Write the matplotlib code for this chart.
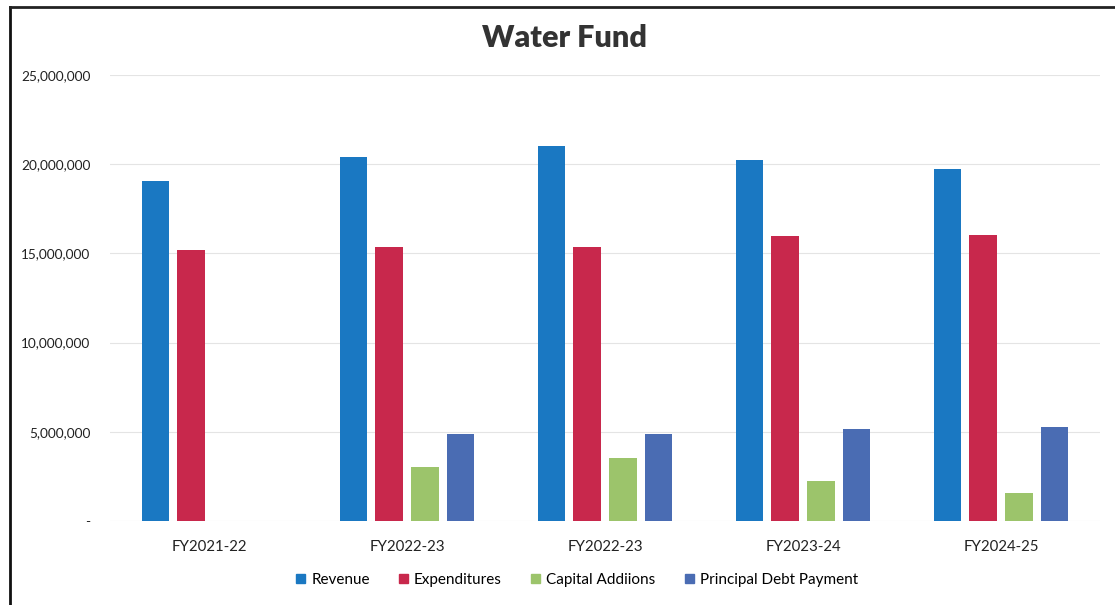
import matplotlib
matplotlib.use("Agg")
import matplotlib.pyplot as plt
from matplotlib.lines import Line2D
from matplotlib.ticker import FuncFormatter
import numpy as np

categories = ["FY2021-22", "FY2022-23", "FY2022-23", "FY2023-24", "FY2024-25"]
series_names = ["Revenue", "Expenditures", "Capital Addiions", "Principal Debt Payment"]
revenue = [19050000, 20400000, 21020000, 20240000, 19730000]
expenditures = [15190000, 15360000, 15360000, 15980000, 16030000]
capital = [0, 3030000, 3530000, 2240000, 1570000]
debt = [0, 4880000, 4880000, 5160000, 5270000]
colors = ["#1A78C2", "#C8284C", "#9CC46B", "#4A6CB3"]
yticks = [0, 5000000, 10000000, 15000000, 20000000, 25000000]

plt.rcParams['font.family'] = ['Lato', 'DejaVu Sans']

fig = plt.figure(figsize=(11.15, 6.05), dpi=100)
ax = fig.add_axes([110/1115, 84/605, 990/1115, 446/605])

x = np.arange(len(categories))
width = 0.14
step = 0.18
data = [revenue, expenditures, capital, debt]
for i, (vals, name, c) in enumerate(zip(data, series_names, colors)):
    ax.bar(x + (i - 1.5) * step, vals, width, color=c, label=name, zorder=3)

ax.set_xlim(-0.5, len(categories) - 0.5)
ax.set_ylim(0, 25000000)
ax.set_yticks(yticks)
ax.yaxis.set_major_formatter(FuncFormatter(lambda v, p: "-" if v == 0 else f"{int(v):,}"))
ax.set_xticks(x)
ax.set_xticklabels(categories)
ax.tick_params(axis='both', length=0, colors="#222222")
ax.tick_params(axis='y', pad=14, labelsize=9.8)
ax.tick_params(axis='x', pad=14, labelsize=10.8)
ax.grid(axis='y', color="#E4E4E4", linewidth=0.8, zorder=0)
for s in ax.spines.values():
    s.set_visible(False)

fig.text(565/1115, 1 - 38/605, "Water Fund", ha='center', va='center',
         fontsize=22, fontweight='heavy', color="#333333")

handles = [plt.Rectangle((0, 0), 1, 1, color=c) for c in colors]
fig.legend(handles, series_names, loc='center', bbox_to_anchor=(577/1115, 1 - 580/605),
           ncol=4, frameon=False, fontsize=11, handlelength=0.6, handleheight=0.6,
           handletextpad=0.4, columnspacing=1.9)

# page border
fig.add_artist(Line2D([10/1115, 10/1115], [0, 1 - 7/605], transform=fig.transFigure,
                      color="#111111", linewidth=2))
fig.add_artist(Line2D([10/1115, 1], [1 - 7/605, 1 - 7/605], transform=fig.transFigure,
                      color="#222222", linewidth=2))

fig.savefig("out.png", dpi=100)
